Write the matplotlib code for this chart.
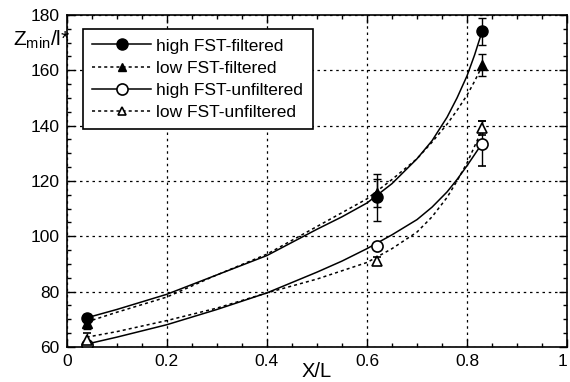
import matplotlib
matplotlib.use("Agg")
import matplotlib.pyplot as plt
from matplotlib.ticker import MultipleLocator

plt.rcParams["font.family"] = ["Liberation Sans", "DejaVu Sans"]
plt.rcParams["mathtext.fontset"] = "custom"
plt.rcParams["mathtext.rm"] = "Liberation Sans"

# measured points
x_pts = [0.04, 0.62, 0.83]
high_filt = [70.5, 114, 174]
high_filt_err = [1.5, 8.5, 5]
low_filt = [68.5, 115.5, 162]
low_filt_err = [2, 5, 4]
high_unf = [60.5, 96.5, 133.5]
high_unf_err = [1, 1, 8]
low_unf = [62.5, 91, 139]
low_unf_err = [2.5, 1.5, 2.5]

# fitted curves
x_fit = [0.04, 0.1, 0.2, 0.3, 0.4, 0.5, 0.55, 0.6, 0.65, 0.7, 0.73, 0.76, 0.78, 0.8, 0.815, 0.83]
high_filt_fit = [70.5, 73.5, 79, 86, 93, 102.5, 107, 112, 119, 128, 134.5, 143, 150, 158, 165.5, 174]
low_filt_fit = [69, 72.5, 78, 86, 93.5, 103.5, 108.5, 113.5, 120.5, 128, 134, 140.5, 145.5, 151, 156, 161.5]
high_unf_fit = [61, 63.5, 68, 73.5, 79.5, 87, 91, 95.5, 100.5, 106, 110.5, 116, 120.5, 125.5, 129.5, 133.5]
low_unf_fit = [63.5, 65.5, 69.5, 74, 79.5, 84.5, 87.5, 90.5, 95.5, 101.5, 107, 114, 120, 126.5, 132.5, 138.5]

fig = plt.figure(figsize=(5.7, 3.82), dpi=100)
ax = fig.add_axes([0.117, 0.092, 0.878, 0.869])

dot = (0, (2, 2))
ax.plot(x_fit, high_filt_fit, color="black", lw=1.1)
ax.plot(x_fit, low_filt_fit, color="black", lw=1.1, linestyle=dot)
ax.plot(x_fit, high_unf_fit, color="black", lw=1.1)
ax.plot(x_fit, low_unf_fit, color="black", lw=1.1, linestyle=dot)

ebkw = dict(ecolor="black", elinewidth=1, capsize=3, capthick=1, linestyle="none")
ax.errorbar(x_pts, high_filt, yerr=high_filt_err, marker="o", ms=8,
            mfc="black", mec="black", **ebkw)
ax.errorbar(x_pts, low_filt, yerr=low_filt_err, marker="^", ms=7,
            mfc="black", mec="black", **ebkw)
ax.errorbar(x_pts, high_unf, yerr=high_unf_err, marker="o", ms=8,
            mfc="white", mec="black", mew=1.2, **ebkw)
ax.errorbar(x_pts, low_unf, yerr=low_unf_err, marker="^", ms=7,
            mfc="white", mec="black", mew=1.2, **ebkw)

# legend proxies
h1, = ax.plot([], [], color="black", lw=1.1, marker="o", ms=8, mfc="black")
h2, = ax.plot([], [], color="black", lw=1.1, linestyle=dot, marker="^", ms=6, mfc="black")
h3, = ax.plot([], [], color="black", lw=1.1, marker="o", ms=8, mfc="white", mew=1.2)
h4, = ax.plot([], [], color="black", lw=1.1, linestyle=dot, marker="^", ms=6, mfc="white", mew=1.2)
leg = ax.legend([h1, h2, h3, h4],
                ["high FST-filtered", "low FST-filtered",
                 "high FST-unfiltered", "low FST-unfiltered"],
                loc="upper left", bbox_to_anchor=(0.032, 0.958), borderaxespad=0,
                fancybox=False, framealpha=1, edgecolor="black", fontsize=12.5,
                handlelength=3.4, labelspacing=0.4, borderpad=0.55, handletextpad=0.3)
leg.get_frame().set_linewidth(1.2)

ax.set_xlim(0, 1)
ax.set_ylim(60, 180)
ax.xaxis.set_minor_locator(MultipleLocator(0.05))
ax.yaxis.set_major_locator(MultipleLocator(20))
ax.yaxis.set_minor_locator(MultipleLocator(5))
ax.set_xticks([0, 0.2, 0.4, 0.6, 0.8, 1.0])
ax.set_xticklabels(["0", "0.2", "0.4", "0.6", "0.8", "1"])
ax.get_xticklabels()[-1].set_ha("right")
ax.tick_params(which="both", direction="in", top=True, right=True,
               labelsize=12.5, width=1)
ax.tick_params(which="major", length=6, pad=5)
ax.tick_params(which="minor", length=3)
ax.grid(True, which="major", color="black", linestyle=(0, (2, 3)), lw=0.9)
for s in ax.spines.values():
    s.set_linewidth(1.2)

ax.set_xlabel("X/L", fontsize=14.5, labelpad=-5)
fig.text(0.022, 0.897, r"Z$_{\mathrm{min}}$/l*", fontsize=15, va="center", ha="left")

fig.savefig("out.png", dpi=100)
